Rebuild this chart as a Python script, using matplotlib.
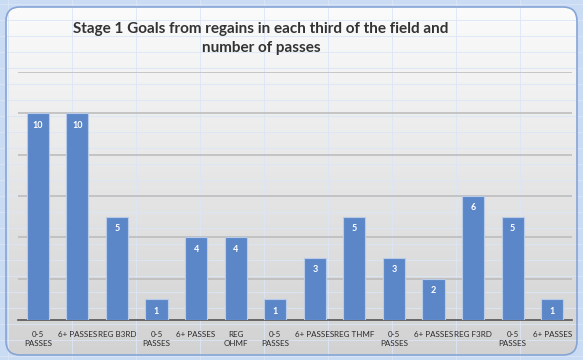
import matplotlib.pyplot as plt
import numpy as np
from matplotlib.patches import FancyBboxPatch
from matplotlib.colors import LinearSegmentedColormap

categories = ["0-5\nPASSES", "6+ PASSES", "REG B3RD", "0-5\nPASSES", "6+ PASSES",
              "REG\nOHMF", "0-5\nPASSES", "6+ PASSES", "REG THMF", "0-5\nPASSES",
              "6+ PASSES", "REG F3RD", "0-5\nPASSES", "6+ PASSES"]
goals = [10, 10, 5, 1, 4, 4, 1, 3, 5, 3, 2, 6, 5, 1]

title = "Stage 1 Goals from regains in each third of the field and\nnumber of passes"

plt.rcParams['font.family'] = ['Lato', 'DejaVu Sans']

fig = plt.figure(figsize=(5.83, 3.6), dpi=100)
fig.patch.set_facecolor('#c9dcf3')

# spreadsheet-ish cells behind the chart
bg = fig.add_axes([0, 0, 1, 1], zorder=-3)
bg.set_xlim(0, 583)
bg.set_ylim(360, 0)
bg.axis('off')
for xv in range(8, 583, 64):
    bg.axvline(xv, color='#dbe6f6', lw=0.6)
for yv in range(4, 360, 16):
    bg.axhline(yv, color='#dbe6f6', lw=0.6)

# rounded chart panel with a soft vertical gradient
box = dict(boxstyle="round,pad=0,rounding_size=14")
grad = np.linspace(0, 1, 256).reshape(-1, 1)
cmap = LinearSegmentedColormap.from_list('g', ['#fbfbfb', '#e6e6e6', '#d2d2d2'])
im = bg.imshow(grad, extent=(6, 577, 355, 7), cmap=cmap, aspect='auto', zorder=1)
clip = FancyBboxPatch((6, 7), 571, 348, facecolor='none', edgecolor='none',
                      transform=bg.transData, **box)
im.set_clip_path(clip)
bg.add_patch(FancyBboxPatch((6, 7), 571, 348, facecolor='none', edgecolor='#86a5d6',
                            lw=1.2, zorder=2, **box))

ax = fig.add_axes([18 / 583, 40 / 360, 554 / 583, 248 / 360])
ax.patch.set_alpha(0)
x = np.arange(len(categories))
bars = ax.bar(x, goals, width=0.56, color='#5b87c9', edgecolor='#b8cbe8', lw=0.8, zorder=3)
for b, v in zip(bars, goals):
    ax.text(b.get_x() + b.get_width() / 2, v - 0.35, str(v), ha='center', va='top',
            color='white', fontsize=6.5, fontweight='bold', zorder=4)

ax.set_xlim(-0.5, len(categories) - 0.5)
ax.set_ylim(0, 12)
ax.set_yticks(range(2, 13, 2))
ax.yaxis.grid(True, color='#bdbdbd', lw=1.2)
ax.set_axisbelow(True)
ax.tick_params(axis='y', left=False, labelleft=False)
ax.tick_params(axis='x', length=0, pad=8)
ax.set_xticks(x, categories, fontsize=5.8, color='#2b2b2b', linespacing=1.35)
for s in ['top', 'right', 'left']:
    ax.spines[s].set_visible(False)
ax.spines['bottom'].set_color('#555555')
ax.spines['bottom'].set_linewidth(1.2)

fig.text(0.448, 0.892, title, ha='center', va='center', fontsize=11, fontweight='bold',
         color='#333333', linespacing=1.45)

plt.savefig('out.png', dpi=100, facecolor=fig.get_facecolor())
